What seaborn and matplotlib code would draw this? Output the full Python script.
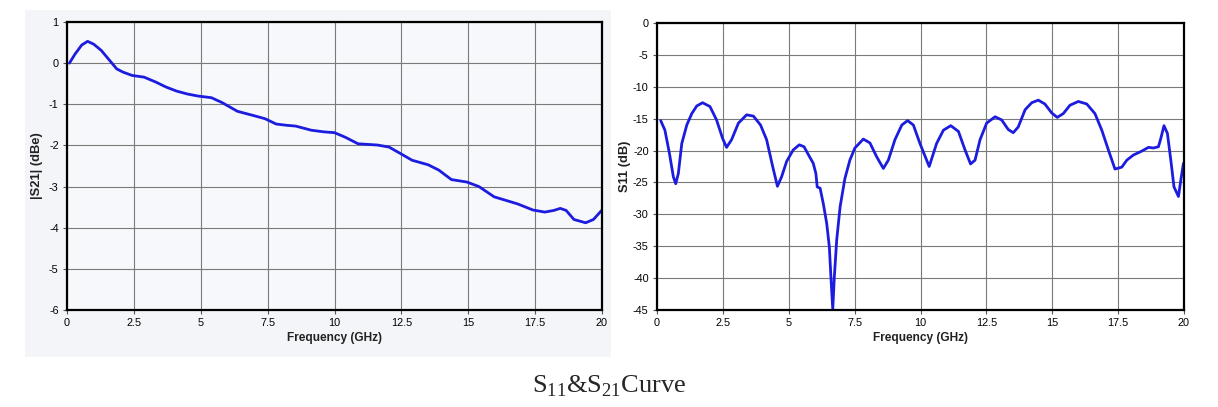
import matplotlib
matplotlib.use("Agg")
import matplotlib.pyplot as plt
import seaborn as sns
import pandas as pd
from matplotlib.patches import Rectangle

# |S21| readings (GHz, dBe)
s21_freq = [0.09, 0.3, 0.55, 0.77, 1.0, 1.28, 1.55, 1.86, 2.1, 2.44, 2.88, 3.32, 3.7, 4.1, 4.5,
            4.9, 5.4, 5.8, 6.37, 6.95, 7.4, 7.82, 8.2, 8.55, 9.13, 9.6, 10.0, 10.4, 10.88,
            11.6, 12.04, 12.5, 12.9, 13.5, 13.9, 14.37, 14.95, 15.4, 15.97, 16.84, 17.42,
            17.86, 18.2, 18.44, 18.66, 18.95, 19.39, 19.68, 20.0]
s21_db = [0.0, 0.22, 0.44, 0.53, 0.46, 0.31, 0.1, -0.14, -0.22, -0.30, -0.34, -0.46, -0.58,
          -0.68, -0.75, -0.80, -0.84, -0.96, -1.17, -1.27, -1.35, -1.48, -1.51, -1.53, -1.63,
          -1.67, -1.69, -1.80, -1.96, -1.99, -2.04, -2.21, -2.36, -2.47, -2.60, -2.83, -2.89,
          -3.00, -3.25, -3.42, -3.57, -3.62, -3.58, -3.53, -3.58, -3.80, -3.88, -3.80, -3.57]

# S11 readings (GHz, dB)
s11_freq = [0.14, 0.30, 0.47, 0.62, 0.71, 0.81, 0.94, 1.13, 1.32, 1.51, 1.73, 2.01, 2.26, 2.49,
            2.64, 2.83, 3.09, 3.40, 3.66, 3.93, 4.16, 4.39, 4.57, 4.73, 4.92, 5.17, 5.40, 5.58,
            5.78, 5.93, 6.03, 6.08, 6.19, 6.31, 6.44, 6.54, 6.60, 6.67, 6.73, 6.82, 6.95, 7.13,
            7.32, 7.51, 7.83, 8.08, 8.34, 8.59, 8.78, 9.03, 9.29, 9.51, 9.73, 9.98, 10.33,
            10.61, 10.87, 11.15, 11.44, 11.69, 11.90, 12.07, 12.26, 12.51, 12.83, 13.08, 13.33,
            13.52, 13.71, 13.97, 14.22, 14.47, 14.72, 14.98, 15.19, 15.42, 15.67, 15.99, 16.31,
            16.62, 16.88, 17.13, 17.38, 17.64, 17.83, 18.08, 18.39, 18.65, 18.84, 19.03, 19.12,
            19.24, 19.37, 19.50, 19.62, 19.79, 19.88, 19.98]
s11_db = [-15.3, -16.8, -20.4, -24.1, -25.2, -23.6, -18.9, -16.0, -14.2, -13.0, -12.5, -13.1,
          -15.2, -18.1, -19.5, -18.3, -15.7, -14.4, -14.6, -16.0, -18.3, -22.5, -25.6, -24.1,
          -21.7, -19.9, -19.1, -19.4, -20.9, -22.0, -23.6, -25.7, -25.9, -28.3, -31.4, -35.1,
          -39.8, -44.9, -39.8, -34.0, -28.8, -24.4, -21.5, -19.6, -18.2, -18.8, -21.0, -22.8,
          -21.5, -18.3, -16.0, -15.3, -16.0, -18.9, -22.5, -18.9, -16.8, -16.1, -17.0, -19.9,
          -22.1, -21.5, -18.3, -15.7, -14.7, -15.2, -16.7, -17.2, -16.3, -13.6, -12.5, -12.1,
          -12.7, -14.1, -14.8, -14.2, -12.9, -12.3, -12.7, -14.2, -16.8, -19.9, -22.9, -22.6,
          -21.5, -20.7, -20.1, -19.5, -19.6, -19.4, -18.1, -16.1, -17.3, -21.5, -25.7, -27.2,
          -24.6, -22.0]

x_ticks = [0, 2.5, 5, 7.5, 10, 12.5, 15, 17.5, 20]
x_tick_labels = ["0", "2.5", "5", "7.5", "10", "12.5", "15", "17.5", "20"]

sns.set_theme(style="white")
plt.rcParams["font.family"] = ["Liberation Sans", "DejaVu Sans"]
plt.rcParams["axes.unicode_minus"] = False
plt.rcParams["mathtext.fontset"] = "custom"
plt.rcParams["mathtext.rm"] = "Liberation Serif"

fig = plt.figure(figsize=(12.18, 4.07), dpi=100)
fig.patch.set_facecolor("white")

# light panel behind the left chart
fig.patches.append(Rectangle((25 / 1218, 1 - 357 / 407), (611 - 25) / 1218, (357 - 10) / 407,
                             transform=fig.transFigure, facecolor="#f4f5f9",
                             edgecolor="none", zorder=-5))

ax1 = fig.add_axes([67 / 1218, 1 - 310 / 407, (602 - 67) / 1218, (310 - 22) / 407])
ax2 = fig.add_axes([657 / 1218, 1 - 310 / 407, (1184 - 657) / 1218, (310 - 23) / 407])
ax1.set_facecolor("#f7f8fb")
ax2.set_facecolor("white")

df21 = pd.DataFrame({"freq": s21_freq, "db": s21_db})
df11 = pd.DataFrame({"freq": s11_freq, "db": s11_db})
sns.lineplot(data=df21, x="freq", y="db", ax=ax1, color="#1c1ce0", linewidth=2,
             sort=False, estimator=None)
sns.lineplot(data=df11, x="freq", y="db", ax=ax2, color="#1c1ce0", linewidth=2,
             sort=False, estimator=None)

ax1.set_ylim(-6, 1)
ax1.set_yticks(range(-6, 2))
ax2.set_ylim(-45, 0)
ax2.set_yticks(range(-45, 1, 5))

for ax in (ax1, ax2):
    ax.set_xlim(0, 20)
    ax.set_xticks(x_ticks)
    ax.set_xticklabels(x_tick_labels)
    ax.grid(True, color="#7a7a7a", linewidth=0.8)
    for side in ax.spines.values():
        side.set_color("black")
        side.set_linewidth(1.6)
    ax.tick_params(axis="both", direction="out", length=3, width=0.8, color="#555555",
                   labelsize=7.8, labelcolor="black", pad=3, left=True, bottom=True)
    ax.set_xlabel("Frequency (GHz)", fontsize=8.6, fontweight="bold", labelpad=3,
                  color="#222222")

ax1.set_ylabel("|S21| (dBe)", fontsize=9.3, fontweight="bold", labelpad=4, color="#222222")
ax2.set_ylabel("S11 (dB)", fontsize=9.3, fontweight="bold", labelpad=1, color="#222222")

fig.text(0.5, 1 - 386 / 407, r"$\mathrm{S}_{11}$&$\mathrm{S}_{21}$Curve", ha="center",
         va="center", fontsize=19, family=["Liberation Serif"])

fig.savefig("out.png", dpi=100)
